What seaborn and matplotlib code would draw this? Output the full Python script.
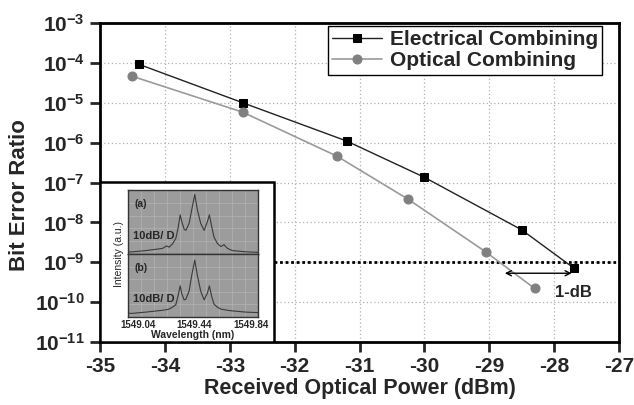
import matplotlib
matplotlib.use("Agg")
import matplotlib.pyplot as plt
import seaborn as sns
import pandas as pd
from matplotlib.patches import Rectangle
from matplotlib.ticker import NullLocator, FixedLocator, FixedFormatter

# ---------------- data ----------------
elec_power = [-34.4, -32.8, -31.2, -30.0, -28.5, -27.7]
elec_ber = [9.2e-5, 1.0e-5, 1.1e-6, 1.35e-7, 6.5e-9, 7.2e-10]
opt_power = [-34.5, -32.8, -31.35, -30.25, -29.05, -28.3]
opt_ber = [4.6e-5, 5.8e-6, 4.6e-7, 3.8e-8, 1.8e-9, 2.2e-10]

x_ticks = [-35, -34, -33, -32, -31, -30, -29, -28, -27]
y_exps = [-3, -4, -5, -6, -7, -8, -9, -10, -11]
threshold_ber = 1e-9
arrow_x = [-28.76, -27.73]
arrow_ber = 5.3e-10

# inset spectra (relative level, 0-10 divisions)
wavelength = [1548.955, 1549.002, 1549.097, 1549.215, 1549.243, 1549.262, 1549.285,
              1549.309, 1549.3255, 1549.340, 1549.3515, 1549.368, 1549.380, 1549.403,
              1549.422, 1549.4435, 1549.462, 1549.486, 1549.510, 1549.533, 1549.547,
              1549.564, 1549.580, 1549.604, 1549.628, 1549.651, 1549.675, 1549.710,
              1549.805, 1549.911]
spec_a = [0.3, 0.35, 0.55, 0.9, 1.3, 1.1, 1.6, 2.5, 4.2, 6.3, 5.2, 4.0, 3.8, 4.9,
          7.1, 9.6, 7.1, 4.9, 3.8, 5.2, 6.3, 4.4, 2.7, 1.7, 1.2, 1.5, 0.9, 0.55,
          0.35, 0.25]
spec_b = [0.6, 0.6, 0.8, 1.1, 1.2, 1.3, 1.6, 2.0, 3.5, 5.1, 3.8, 2.8, 2.9, 4.2,
          6.8, 9.3, 6.8, 4.2, 2.8, 3.9, 5.1, 3.3, 2.1, 1.6, 1.3, 1.2, 1.1, 1.0,
          0.8, 0.7]
inset_ticks = [1549.04, 1549.44, 1549.84]

# ---------------- style ----------------
sns.set_style("white")
plt.rcParams["font.family"] = ["Liberation Sans", "DejaVu Sans"]
plt.rcParams["mathtext.fontset"] = "custom"
plt.rcParams["mathtext.rm"] = "Liberation Sans:bold"
plt.rcParams["mathtext.bf"] = "Liberation Sans:bold"
plt.rcParams["mathtext.it"] = "Liberation Sans:bold"

W, H = 634, 405
fig = plt.figure(figsize=(W / 100, H / 100), dpi=100)

def fx(px):
    return px / W

def fy(py):
    return 1 - py / H

ax = fig.add_axes([fx(100), fy(342), fx(619) - fx(100), fy(23) - fy(342)])

df_e = pd.DataFrame({"power": elec_power, "ber": elec_ber})
df_o = pd.DataFrame({"power": opt_power, "ber": opt_ber})

sns.lineplot(data=df_e, x="power", y="ber", ax=ax, color="#222222", lw=1.0,
             marker="s", markersize=5.5, markerfacecolor="black", markeredgecolor="black",
             label="Electrical Combining", zorder=5)
sns.lineplot(data=df_o, x="power", y="ber", ax=ax, color="#9a9a9a", lw=1.2,
             marker="o", markersize=6.5, markerfacecolor="#808080", markeredgecolor="#808080",
             label="Optical Combining", zorder=5)

ax.set_yscale("log")
ax.set_xlim(-35, -27)
ax.set_ylim(1e-11, 1e-3)
ax.xaxis.set_major_locator(FixedLocator(x_ticks))
ax.set_xticklabels([str(t) for t in x_ticks])
ax.yaxis.set_major_locator(FixedLocator([10.0 ** e for e in y_exps]))
ax.yaxis.set_major_formatter(FixedFormatter([r"$\mathbf{10^{%d}}$" % e for e in y_exps]))
ax.yaxis.set_minor_locator(NullLocator())
ax.xaxis.set_minor_locator(NullLocator())

ax.grid(True, which="major", ls=(0, (1, 2)), color="#b0b0b0", lw=0.9)
ax.set_axisbelow(True)
for s in ax.spines.values():
    s.set_linewidth(2.0)
    s.set_color("black")
ax.tick_params(axis="both", which="major", direction="out", length=7, width=2,
               labelsize=15, pad=4, bottom=True, left=True, top=False, right=False)
for lab in ax.get_xticklabels():
    lab.set_fontweight("bold")

ax.set_xlabel("Received Optical Power (dBm)", fontsize=15.5, fontweight="bold", labelpad=1)
ax.set_ylabel("Bit Error Ratio", fontsize=16, fontweight="bold")
ax.yaxis.set_label_coords(-0.135, 0.46)

# threshold line
ax.plot([-32.32, -27], [threshold_ber, threshold_ber], color="black", lw=2.0,
        ls=(0, (1, 1)), zorder=4)
# 1-dB arrow
ax.annotate("", xy=(arrow_x[0], arrow_ber), xytext=(arrow_x[1], arrow_ber),
            arrowprops=dict(arrowstyle="<->", color="black", lw=1.0,
                            shrinkA=0, shrinkB=0, mutation_scale=9), zorder=6)
ax.text(-27.71, 1.7e-10, "1-dB", fontsize=12, fontweight="bold", ha="center",
        va="center", zorder=6)

leg = ax.legend(loc="upper right", bbox_to_anchor=(0.968, 0.99), frameon=True,
                fancybox=False, shadow=False, handlelength=2.4, handletextpad=0.4,
                borderpad=0.2, labelspacing=0.1, borderaxespad=0.0,
                prop={"weight": "bold", "size": 15})
leg.get_frame().set_edgecolor("black")
leg.get_frame().set_linewidth(1.0)
leg.get_frame().set_alpha(1)

# inset white box
ax.add_patch(Rectangle((0, 0), (274 - 100) / 519, (342 - 182) / 319, transform=ax.transAxes,
                       facecolor="white", edgecolor="black", lw=1.8, zorder=7))

# inset spectra panels
pl, pr = 128, 258
panels = [(190, 254, spec_a, "(a)"), (254, 317, spec_b, "(b)")]
for top, bot, spec, tag in panels:
    iax = fig.add_axes([fx(pl), fy(bot), fx(pr) - fx(pl), fy(top) - fy(bot)], zorder=10)
    iax.set_facecolor("#9c9c9c")
    sns.lineplot(x=wavelength, y=spec, ax=iax, color="#3a3a3a", lw=0.8)
    iax.set_xlim(1548.97, 1549.892)
    iax.set_ylim(0, 10.3)
    iax.set_xticks([1548.97 + i * 0.0922 for i in range(1, 10)])
    iax.set_yticks([2.06, 4.12, 6.18, 8.24])
    iax.grid(True, color="#b4b4b4", lw=0.5)
    iax.tick_params(length=0, labelbottom=False, labelleft=False)
    for s in iax.spines.values():
        s.set_linewidth(1.0)
        s.set_color("#333333")
    iax.text(0.05, 0.78, tag, transform=iax.transAxes, fontsize=7.5, fontweight="bold",
             ha="left", va="center")
    iax.text(0.04, 0.28, "10dB/ D", transform=iax.transAxes, fontsize=8,
             fontweight="bold", ha="left", va="center")

for t in inset_ticks:
    px = 137.7 + (t - 1549.04) / 0.4 * 56.5
    fig.text(fx(px), fy(325), "%.2f" % t, fontsize=7, fontweight="bold",
             ha="center", va="center", zorder=11)
fig.text(fx(193), fy(334.5), "Wavelength (nm)", fontsize=7.5, fontweight="bold",
         ha="center", va="center", zorder=11)
fig.text(fx(119), fy(254), "Intensity (a.u.)", fontsize=7.5, rotation=90,
         ha="center", va="center", zorder=11)

fig.savefig("out.png", dpi=100)
